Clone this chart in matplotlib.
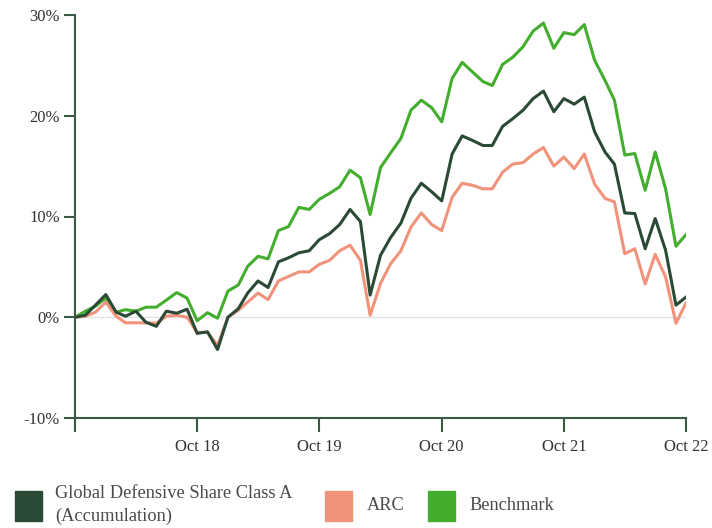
import numpy as np
import pandas as pd
import matplotlib
matplotlib.use('Agg')
import matplotlib.pyplot as plt
from matplotlib.patches import Rectangle

# monthly cumulative returns (%), Oct 2017 - Oct 2022
fund = [0.0, 0.2, 1.2, 2.25, 0.5, 0.1, 0.6, -0.5, -0.9, 0.6, 0.4, 0.8,
        -1.6, -1.45, -3.2, 0.0, 0.85, 2.4, 3.6, 2.95, 5.5, 5.9, 6.4, 6.6,
        7.7, 8.3, 9.2, 10.7, 9.5, 2.2, 6.15, 7.9, 9.35, 11.8, 13.3, 12.45,
        11.55, 16.2, 18.0, 17.55, 17.05, 17.05, 18.95, 19.7, 20.55, 21.7, 22.45, 20.4,
        21.7, 21.15, 21.85, 18.4, 16.4, 15.2, 10.35, 10.3, 6.8, 9.8, 6.65, 1.2, 2.0]
arc = [0.0, 0.1, 0.5, 1.5, 0.1, -0.55, -0.55, -0.55, -0.6, 0.1, 0.2, 0.0,
       -1.5, -1.5, -2.8, 0.0, 0.7, 1.5, 2.4, 1.75, 3.6, 4.05, 4.5, 4.5,
       5.25, 5.65, 6.6, 7.15, 5.65, 0.2, 3.35, 5.3, 6.6, 8.95, 10.35, 9.2,
       8.6, 11.9, 13.3, 13.1, 12.75, 12.75, 14.4, 15.2, 15.35, 16.2, 16.85, 15.0,
       15.9, 14.75, 16.2, 13.2, 11.8, 11.45, 6.3, 6.8, 3.3, 6.25, 4.0, -0.6, 1.4]
bench = [0.0, 0.6, 1.1, 1.9, 0.5, 0.75, 0.6, 1.0, 1.0, 1.7, 2.45, 1.9,
         -0.35, 0.45, -0.1, 2.6, 3.2, 5.05, 6.05, 5.8, 8.6, 9.0, 10.9, 10.7,
         11.7, 12.3, 12.95, 14.6, 13.85, 10.2, 14.85, 16.3, 17.75, 20.55, 21.55, 20.8,
         19.4, 23.7, 25.3, 24.35, 23.4, 23.0, 25.1, 25.8, 26.85, 28.4, 29.2, 26.7,
         28.25, 28.05, 29.05, 25.5, 23.5, 21.55, 16.1, 16.25, 12.6, 16.4, 12.75, 7.05, 8.2]
months = pd.date_range('2017-10-01', periods=len(fund), freq='MS')

tick_dates = pd.date_range('2017-10-01', '2022-10-01', freq='12MS')
tick_labels = ['', 'Oct 18', 'Oct 19', 'Oct 20', 'Oct 21', 'Oct 22']
y_ticks = [-10, 0, 10, 20, 30]

c_fund = '#2a4a36'
c_arc = '#f0937a'
c_bench = '#43ad2e'
c_axis = '#3b5a46'
c_text = '#333333'

plt.rcParams['font.family'] = ['Liberation Serif', 'DejaVu Serif']

fig = plt.figure(figsize=(7.12, 5.28), dpi=100)
ax = fig.add_axes([75 / 712, 110 / 528, 611 / 712, 403 / 528])

ax.axhline(0, color='#e3e3e3', lw=1, zorder=1)
ax.plot(months, bench, color=c_bench, lw=2.2, zorder=2)
ax.plot(months, arc, color=c_arc, lw=2.2, zorder=3)
ax.plot(months, fund, color=c_fund, lw=2.2, zorder=4)

ax.set_xlim(months[0], months[-1])
ax.set_ylim(-10, 30)
ax.set_xticks(tick_dates)
ax.set_xticklabels(tick_labels)
ax.set_yticks(y_ticks)
ax.set_yticklabels([f'{v}%' for v in y_ticks])

for s in ['top', 'right']:
    ax.spines[s].set_visible(False)
for s in ['left', 'bottom']:
    ax.spines[s].set_color(c_axis)
    ax.spines[s].set_linewidth(1.5)
ax.tick_params(axis='x', length=10, width=1.5, color=c_axis, pad=5,
               labelsize=12, labelcolor=c_text)
ax.tick_params(axis='y', length=8, width=1.5, color=c_axis, pad=3,
               labelsize=12, labelcolor=c_text)

# legend drawn in figure coordinates
W, H = 712, 528
def legend_item(x, color):
    fig.add_artist(Rectangle((x / W, (H - 521) / H), 27 / W, 30 / H,
                             transform=fig.transFigure, color=color))

legend_item(15, c_fund)
legend_item(325, c_arc)
legend_item(428, c_bench)
lg = dict(fontsize=13.2, color='#4a4a4a', va='center')
fig.text(55 / W, (H - 493) / H, 'Global Defensive Share Class A', **lg)
fig.text(55 / W, (H - 516) / H, '(Accumulation)', **lg)
fig.text(367 / W, (H - 506) / H, 'ARC', **lg)
fig.text(469 / W, (H - 506) / H, 'Benchmark', **lg)

fig.savefig('out.png', dpi=100)
